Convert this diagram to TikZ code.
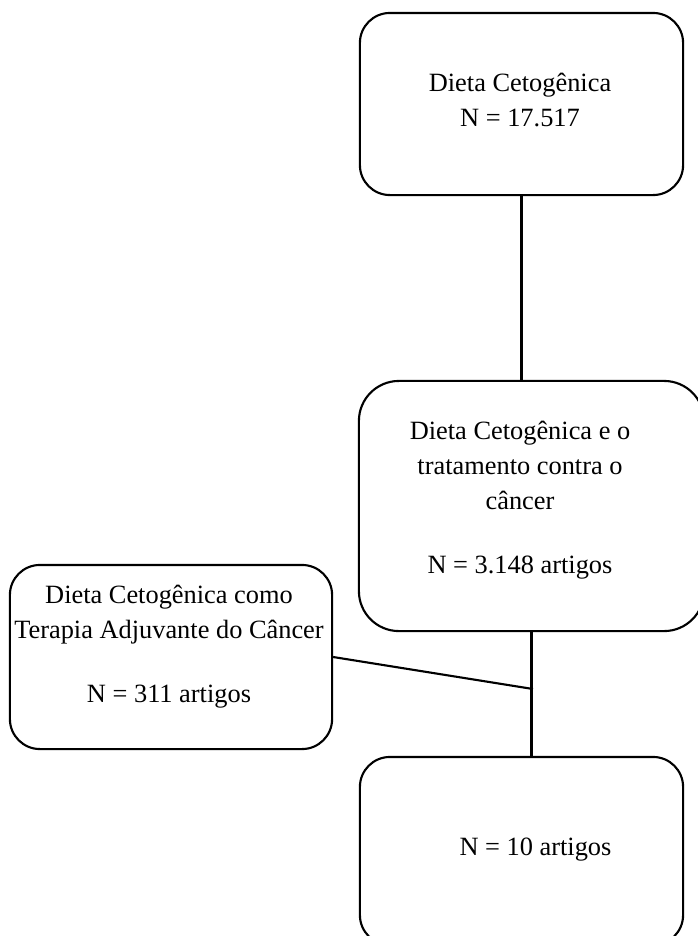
\documentclass[tikz,border=0pt]{standalone}
\usepackage{fontspec}
\setmainfont{Liberation Serif}
\tikzset{
  caixa/.style={draw, line width=0.6pt, rounded corners=0.3cm, inner sep=0pt},
  texto/.style={align=center, inner sep=0pt, font=\fontsize{7.5}{9.96}\selectfont}
}
\begin{document}
\begin{tikzpicture}[x=0.01cm, y=-0.01cm, line width=0.6pt]
  \useasboundingbox (0,0) rectangle (698,936);
  \node[caixa, minimum width=3.23cm, minimum height=1.82cm] (cetogenica) at (521.5,104) {};
  \node[caixa, rounded corners=0.4cm, minimum width=3.45cm, minimum height=2.5cm] (tratamento) at (531.5,506) {};
  \node[caixa, minimum width=3.22cm, minimum height=1.84cm] (adjuvante) at (171,657) {};
  \node[caixa, minimum width=3.23cm, minimum height=1.88cm] (artigos) at (521.5,851) {};
  \node[texto] (tcetogenica) at (520,100) {Dieta Cetogênica\\N = 17.517};
  \node[texto] (ttratamento) at (520,500) {Dieta Cetogênica e o\\tratamento contra o\\câncer\\[0.29cm]N = 3.148 artigos};
  \node[texto] (tadjuvante) at (169,647) {Dieta Cetogênica como\\Terapia Adjuvante do Câncer\\[0.29cm]N = 311 artigos};
  \node[texto] (tartigos) at (535.5,850) {N = 10 artigos};
  \coordinate (juncao) at (533,689);
  \draw (cetogenica.south) -- (cetogenica.south |- tratamento.north);
  \draw (tratamento.south) -- (tratamento.south |- artigos.north);
  \draw (adjuvante.east) -- (juncao);
\end{tikzpicture}
\end{document}
